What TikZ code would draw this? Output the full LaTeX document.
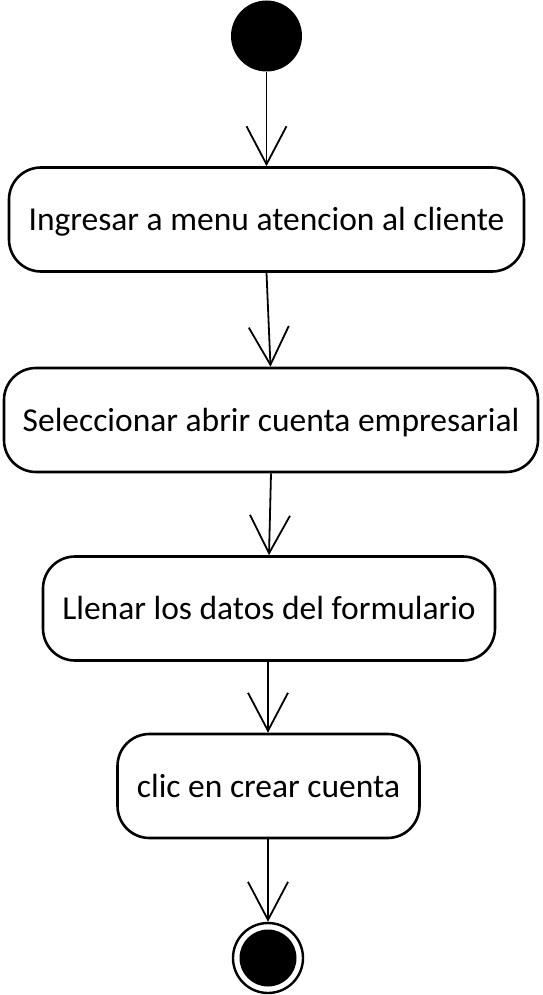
\documentclass[tikz,border=0pt]{standalone}
\usepackage{fontspec}
\setmainfont{Carlito}
\usetikzlibrary{arrows.meta}
\begin{document}
\begin{tikzpicture}[x=1pt,y=-1pt,
  act/.style={draw, line width=2.6pt, rounded corners=32pt, minimum height=104pt, font=\fontsize{33.5}{38}\selectfont, inner sep=0pt, text height=22pt, text depth=0pt},
  flow/.style={line width=1.8pt, -{Straight Barb[length=38pt,width=40pt,line width=1.8pt]}}]
\useasboundingbox (0,0) rectangle (542,995);
\node[circle, fill=black, minimum size=71pt, inner sep=0pt] (start) at (266.5,36) {};
\node[act, minimum width=515pt] (b1) at (266.5,219.5) {Ingresar a menu atencion al cliente};
\node[act, minimum width=534pt] (b2) at (271,420) {Seleccionar abrir cuenta empresarial};
\node[act, minimum width=452pt] (b3) at (269,608.5) {Llenar los datos del formulario};
\node[act, minimum width=302pt] (b4) at (268.5,786) {clic en crear cuenta};
\node[circle, draw, line width=2.4pt, minimum size=70pt, inner sep=0pt] (end) at (268,958) {};
\node[circle, fill=black, minimum size=57pt, inner sep=0pt] (endin) at (268,958) {};
\draw[flow] (start.south) -- (b1.north);
\draw[flow] ([xshift=0pt]b1.south) -- ([xshift=-0.5pt]b2.north);
\draw[flow] (b2.south) -- ([xshift=0pt]b3.north);
\draw[flow] ([xshift=-1pt]b3.south) -- ([xshift=-0.5pt]b4.north);
\draw[flow] ([xshift=-0.5pt]b4.south) -- (end.north);
\end{tikzpicture}
\end{document}
